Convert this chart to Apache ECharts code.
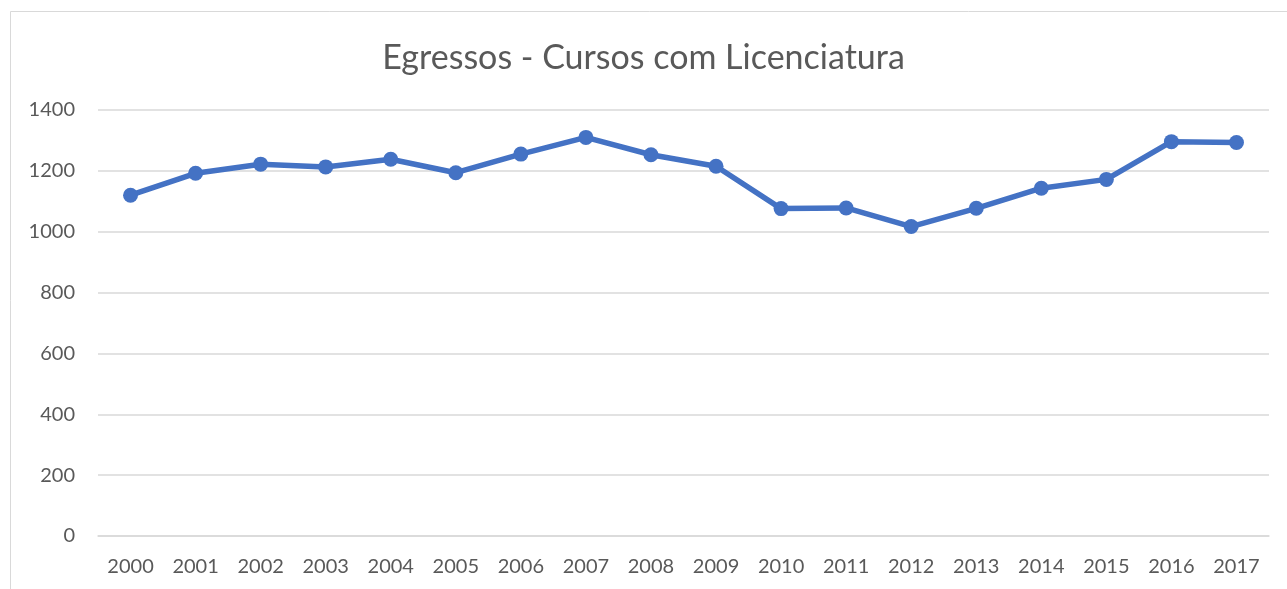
<!DOCTYPE html>
<html>
<head>
<meta charset="utf-8">
<script src="https://cdn.jsdelivr.net/npm/echarts@6/dist/echarts.min.js"></script>
<style>
html,body{margin:0;padding:0;background:#fff;}
#chart{width:1287px;height:589px;}
</style>
</head>
<body>
<div id="chart"></div>
<script>
const years = ['2000','2001','2002','2003','2004','2005','2006','2007','2008','2009','2010','2011','2012','2013','2014','2015','2016','2017'];
const egressos = [1120,1192,1222,1213,1238,1194,1255,1310,1253,1215,1076,1078,1017,1077,1143,1172,1296,1293];
const yTicks = [0,200,400,600,800,1000,1200,1400];

const chart = echarts.init(document.getElementById('chart'));
const font = 'Lato, "Open Sans", sans-serif';
chart.setOption({
  animation:false,
  backgroundColor:'#fff',
  graphic:[{type:'rect',shape:{x:10.5,y:11.5,width:1400,height:700},style:{fill:'none',stroke:'#d9d9d9',lineWidth:1},silent:true}],
  title:{text:'Egressos - Cursos com Licenciatura',left:'center',top:36,textStyle:{fontFamily:font,fontSize:34,fontWeight:'normal',color:'#595959'}},
  grid:{left:98,right:18,top:110,bottom:53},
  xAxis:{type:'category',data:years,boundaryGap:true,
    axisLine:{lineStyle:{color:'#d9d9d9',width:1.5}},axisTick:{show:false},
    axisLabel:{fontFamily:font,fontSize:20,color:'#595959',margin:21}},
  yAxis:{type:'value',min:yTicks[0],max:yTicks[yTicks.length-1],interval:200,
    axisLine:{show:false},axisTick:{show:false},
    splitLine:{lineStyle:{color:'#d9d9d9',width:1.5}},
    axisLabel:{fontFamily:font,fontSize:20,color:'#595959',margin:23,formatter:v=>String(v)}},
  series:[{type:'line',data:egressos,symbol:'circle',symbolSize:15,
    lineStyle:{color:'#4472C4',width:5.5},itemStyle:{color:'#4472C4'}}]
});
</script>
</body>
</html>
